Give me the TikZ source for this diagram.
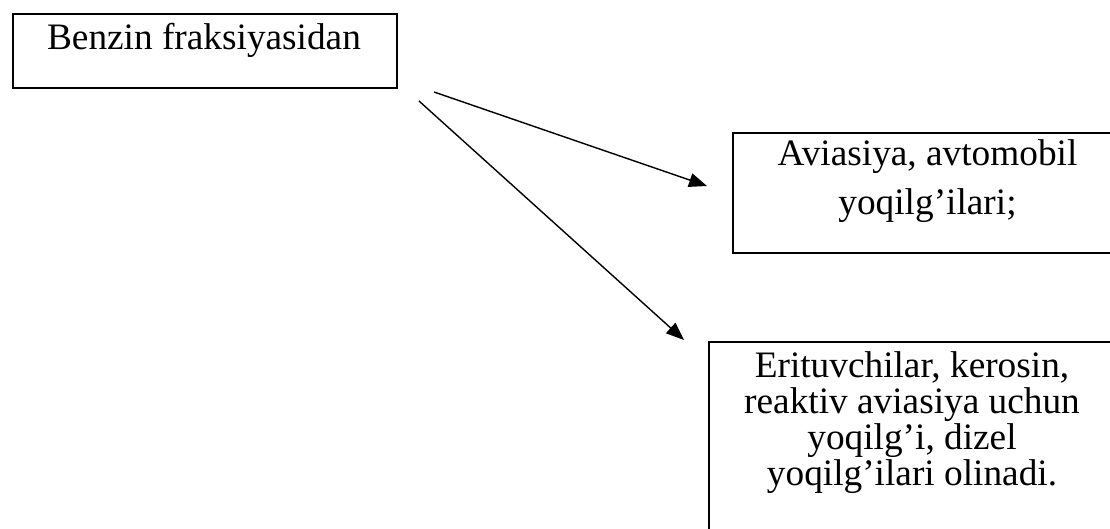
\documentclass[tikz,border=0pt]{standalone}
\usepackage{fontspec}
\setmainfont{Liberation Serif}
\usetikzlibrary{arrows.meta}
\begin{document}
\begin{tikzpicture}[x=1pt,y=-1pt,
  boxshape/.style={draw=black, line width=1.7pt, rectangle, inner sep=0pt, anchor=north west},
  txt/.style={inner sep=0pt, align=center, anchor=base},
  conn/.style={draw=black, line width=1.4pt, -{Triangle[length=18pt,width=14pt]}}]
\useasboundingbox (0,0) rectangle (1110,529);
\clip (0,0) rectangle (1110,529);
\node[boxshape, minimum width=384pt, minimum height=74pt] (b1) at (12,13) {};
\node[txt, font=\fontsize{37.3}{40}\selectfont] (t1) at (204,50) {Benzin fraksiyasidan};
\node[boxshape, minimum width=391pt, minimum height=120pt] (b2) at (732,132) {};
\node[txt, font=\fontsize{37.3}{49}\selectfont] (t2) at (927.5,215) {Aviasiya, avtomobil\\yoqilg’ilari;};
\node[boxshape, minimum width=408pt, minimum height=220pt] (b3) at (708,341) {};
\node[txt, font=\fontsize{37.3}{35.7}\selectfont] (t3) at (912,485) {Erituvchilar, kerosin,\\reaktiv aviasiya uchun\\yoqilg’i, dizel\\yoqilg’ilari olinadi.};
\coordinate (s1) at (434,92);
\coordinate (e1) at (707,186);
\coordinate (s2) at (419,101);
\coordinate (e2) at (684,340);
\draw[conn] (s1) -- (e1);
\draw[conn] (s2) -- (e2);
\end{tikzpicture}
\end{document}
